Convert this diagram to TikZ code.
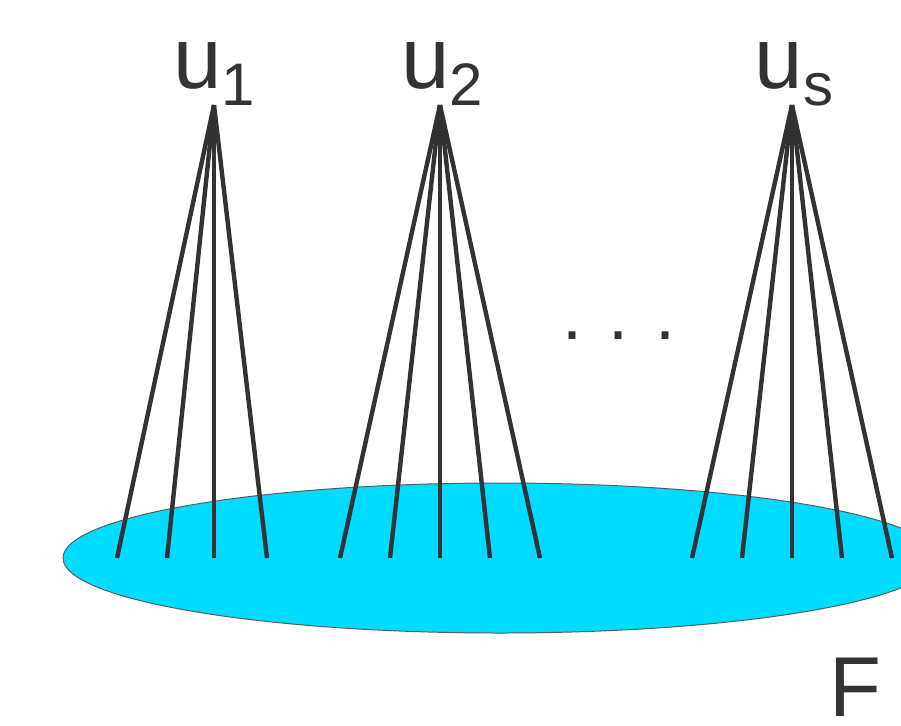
\documentclass[tikz,border=0pt]{standalone}
\usepackage{fontspec}
\setmainfont{Liberation Sans}
\setsansfont{Liberation Sans}
\usetikzlibrary{shapes.geometric}
\definecolor{cwire}{HTML}{333333}
\definecolor{cplane}{HTML}{00DCFF}
\newcommand{\lowsub}[1]{{\fontsize{30}{30}\selectfont\raisebox{-8.5pt}{#1}}}
\tikzset{
  every picture/.style={font=\sffamily, x=0.5pt, y=-0.5pt},
  wire/.style={draw=cwire, line width=2.2pt},
  plane/.style={ellipse, draw=cwire!80, line width=0.5pt, fill=cplane, minimum width=437pt, minimum height=75pt, inner sep=0pt},
  lbl/.style={font=\sffamily\fontsize{43.5}{50}\selectfont, text=cwire, anchor=base, inner sep=0pt},
}

\begin{document}
\begin{tikzpicture}
  \useasboundingbox (0,0) rectangle (901,725);
  \clip (0,0) rectangle (901,725);
  \node[plane] (plane) at (500,558) {};
  \coordinate (a1) at (214,105);
  \coordinate (a2) at (440,105);
  \coordinate (as) at (792,105);
  \foreach \x [count=\i] in {117,167,214,267} {
    \coordinate (b1-\i) at (\x,558);
    \draw[wire] (a1) -- (b1-\i);
  }
  \foreach \x [count=\i] in {340,390,440,490,540} {
    \coordinate (b2-\i) at (\x,558);
    \draw[wire] (a2) -- (b2-\i);
  }
  \foreach \x [count=\i] in {692,742,792,842,892} {
    \coordinate (bs-\i) at (\x,558);
    \draw[wire] (as) -- (bs-\i);
  }
  \node[lbl] (u1) at (214,88) {u\lowsub{1}};
  \node[lbl] (u2) at (442,88) {u\lowsub{2}};
  \node[lbl] (us) at (794,88) {u\lowsub{s}};
  \node[lbl, font=\sffamily\fontsize{36}{40}\selectfont] (dots) at (619,339) {. . .};
  \node[lbl, anchor=base west, font=\sffamily\fontsize{42.5}{50}\selectfont] (F) at (829,716) {F};
\end{tikzpicture}
\end{document}
